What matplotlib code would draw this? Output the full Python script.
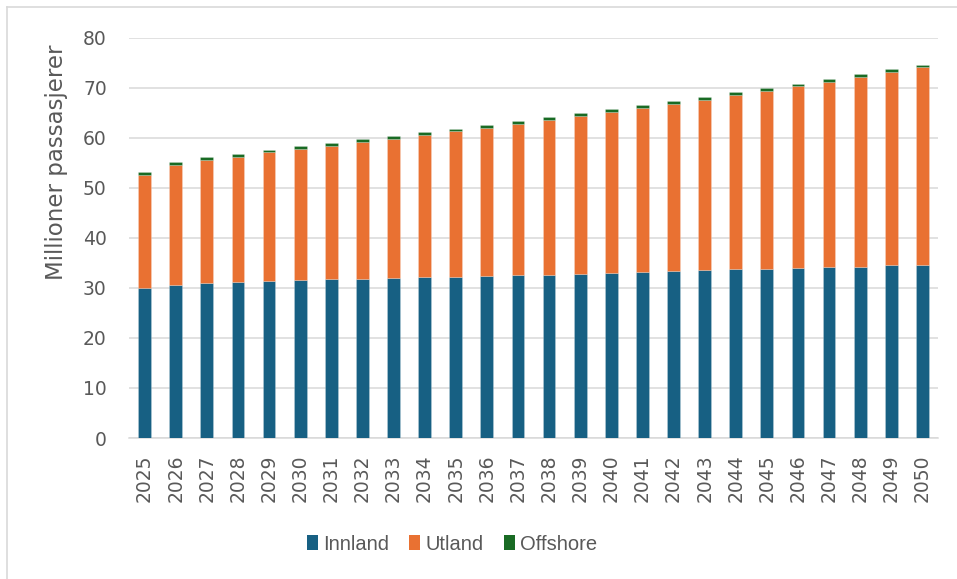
import matplotlib
matplotlib.use("Agg")
import matplotlib.pyplot as plt
from matplotlib.lines import Line2D
from matplotlib.patches import Patch

# Data (millioner passasjerer)
years = list(range(2025, 2051))
innland = [29.9, 30.5, 30.9, 31.1, 31.3, 31.5, 31.7, 31.7, 31.9, 32.1, 32.2, 32.4, 32.5,
           32.6, 32.8, 32.9, 33.1, 33.3, 33.5, 33.7, 33.7, 33.9, 34.1, 34.2, 34.5, 34.6]
utland = [22.7, 24.1, 24.7, 25.1, 25.8, 26.3, 26.7, 27.5, 27.9, 28.5, 29.1, 29.6, 30.3,
          31.0, 31.6, 32.3, 32.9, 33.5, 34.1, 34.9, 35.7, 36.4, 37.1, 38.0, 38.7, 39.5]
offshore = [0.5, 0.5, 0.5, 0.5, 0.5, 0.5, 0.5, 0.5, 0.5, 0.5, 0.5, 0.5, 0.5,
            0.5, 0.5, 0.5, 0.5, 0.5, 0.5, 0.5, 0.5, 0.5, 0.5, 0.5, 0.5, 0.5]

series_names = ["Innland", "Utland", "Offshore"]
colors = ["#176083", "#E97132", "#196B24"]
grid_col = "#D9D9D9"
text_col = "#595959"

fig = plt.figure(figsize=(9.57, 5.79), dpi=100)
ax = fig.add_axes([129 / 957, 1 - 438 / 579, (938 - 129) / 957, (438 - 37.7) / 579])

x = list(range(len(years)))
bottom = [0.0] * len(years)
for name, vals, col in zip(series_names, [innland, utland, offshore], colors):
    ax.bar(x, vals, width=0.41, bottom=bottom, color=col,
           edgecolor=(1, 1, 1, 0.35), linewidth=0.4, zorder=3, label=name)
    bottom = [b + v for b, v in zip(bottom, vals)]

ax.set_xlim(-0.5, len(years) - 0.5)
ax.set_ylim(0, 80)
ax.set_yticks(range(0, 81, 10))
ax.set_xticks(x)
ax.set_xticklabels([str(y) for y in years], rotation=90)

ax.grid(axis="y", color=grid_col, linewidth=1.1, zorder=0)
for side in ["top", "right", "left"]:
    ax.spines[side].set_visible(False)
ax.spines["bottom"].set_color(grid_col)
ax.spines["bottom"].set_linewidth(1.1)
ax.tick_params(axis="both", length=0, colors=text_col, labelsize=13.5)
ax.tick_params(axis="y", pad=16)
ax.tick_params(axis="x", pad=12)

fig.text(57 / 957, 1 - 162 / 579, "Millioner passasjerer", rotation=90,
         ha="center", va="center", fontsize=16.5, color=text_col)

# legend
handles = [Patch(facecolor=c, edgecolor="none") for c in colors]
leg = fig.legend(handles, series_names, loc="center", ncol=3,
                 bbox_to_anchor=(452 / 957, 1 - 544 / 579), frameon=False,
                 prop={"family": "Liberation Sans", "size": 14.5},
                 handlelength=0.55, handleheight=0.7, handletextpad=0.25,
                 columnspacing=1.0)
for t in leg.get_texts():
    t.set_color(text_col)

# chart border: only left and top are visible in the reference (image is cropped)
bx, by = 7 / 957, 1 - 7 / 579
fig.add_artist(Line2D([bx, bx], [0, by], transform=fig.transFigure,
                      color=grid_col, linewidth=1.2))
fig.add_artist(Line2D([bx, 1], [by, by], transform=fig.transFigure,
                      color=grid_col, linewidth=1.2))

fig.savefig("out.png", dpi=100)
